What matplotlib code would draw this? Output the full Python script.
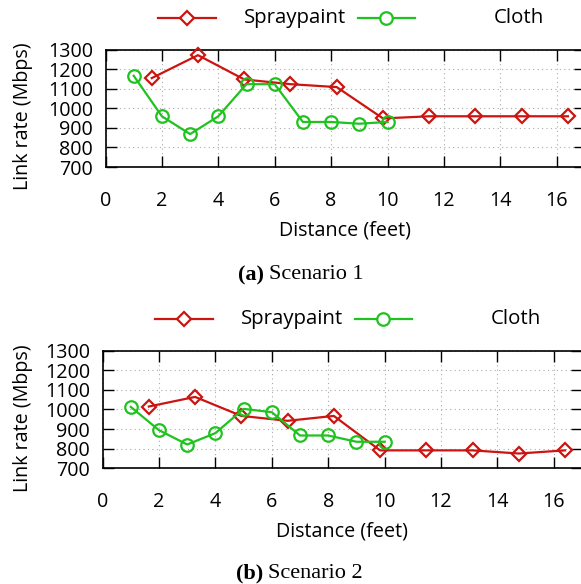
import matplotlib
matplotlib.use("Agg")
import matplotlib.pyplot as plt
from matplotlib.lines import Line2D

plt.rcParams['font.family'] = ['Open Sans', 'DejaVu Sans']

# distances (feet)
spray_x = [1.64, 3.28, 4.92, 6.56, 8.2, 9.84, 11.48, 13.12, 14.76, 16.4]
cloth_x = [1, 2, 3, 4, 5, 6, 7, 8, 9, 10]

# link rates (Mbps)
spray_s1 = [1154, 1271, 1147, 1123, 1108, 948, 959, 959, 959, 959]
cloth_s1 = [1166, 959, 868, 959, 1123, 1123, 930, 930, 921, 930]
spray_s2 = [1015, 1064, 967, 942, 967, 791, 791, 791, 775, 791]
cloth_s2 = [1013, 894, 821, 879, 1003, 986, 867, 867, 835, 835]

x_ticks = [0, 2, 4, 6, 8, 10, 12, 14, 16]
y_ticks = [700, 800, 900, 1000, 1100, 1200, 1300]
captions = [("(a)", "Scenario 1"), ("(b)", "Scenario 2")]

RED = '#cc1411'
GREEN = '#1fc21f'
W, H = 581, 584
FS = 14.2

fig = plt.figure(figsize=(W / 100, H / 100), dpi=100)


def px(x, y):
    return x / W, 1 - y / H


panels = [
    # left px, top px, series, legend y, label y, caption y
    (105.5, 49.5, spray_s1, cloth_s1, 18, 116, 275),
    (102.6, 350.7, spray_s2, cloth_s2, 319, 418, 573),
]

for i, (left, top, sp, cl, leg_y, ylab_y, cap_y) in enumerate(panels):
    x0, y1 = px(left, top)
    ax = fig.add_axes([x0, y1 - 117.5 / H, 17 * 28.2 / W, 117.5 / H])
    ax.plot(spray_x, sp, color=RED, lw=1.6, marker='D', ms=7, mfc='none',
            mew=1.6, clip_on=False, zorder=3)
    ax.plot(cloth_x, cl, color=GREEN, lw=1.6, marker='o', ms=9, mfc='none',
            mew=1.6, clip_on=False, zorder=3)
    ax.set_xlim(0, 17)
    ax.set_ylim(700, 1300)
    ax.set_xticks(x_ticks)
    ax.set_yticks(y_ticks)
    ax.tick_params(direction='in', length=8, width=1, top=True, right=True,
                   labelsize=FS)
    ax.tick_params(axis='x', pad=17)
    ax.tick_params(axis='y', pad=9)
    ax.grid(True, ls=(0, (1, 3)), color='#aaaaaa', lw=0.8)
    for s in ax.spines.values():
        s.set_linewidth(1.2)
    ax.set_xlabel('Distance (feet)', fontsize=FS, labelpad=7)
    ax.set_ylabel('Link rate (Mbps)', fontsize=FS)
    ax.yaxis.set_label_coords((33 - left) / (17 * 28.2), (top + 117.5 - ylab_y) / 117.5)

    # legend drawn in figure pixels (gnuplot-style key)
    dx = -3 if i else 0
    for (a, b, c), col, mk, ms, name, tx in [
        ((158, 216, 187), RED, 'D', 7, 'Spraypaint', 346),
        ((358, 415, 386), GREEN, 'o', 9, 'Cloth', 544),
    ]:
        xa, ya = px(a + dx, leg_y)
        xb, _ = px(b + dx, leg_y)
        xc, _ = px(c + dx, leg_y)
        fig.add_artist(Line2D([xa, xb], [ya, ya], color=col, lw=1.6))
        fig.add_artist(Line2D([xc], [ya], color=col, marker=mk, ms=ms,
                              mfc='white', mew=1.6))
        xt, yt = px(tx + dx, leg_y)
        fig.text(xt, yt, name, ha='right', va='center', fontsize=FS + 0.5)

    tag, name = captions[i]
    xt, yt = px(264 - i, cap_y)
    fig.text(xt, yt, tag, ha='right', va='center', fontsize=16,
             fontweight='bold', family='Liberation Serif')
    xt, _ = px(269 - i, cap_y)
    fig.text(xt, yt, name, ha='left', va='center', fontsize=16,
             family='Liberation Serif')

fig.savefig('out.png', dpi=100)
